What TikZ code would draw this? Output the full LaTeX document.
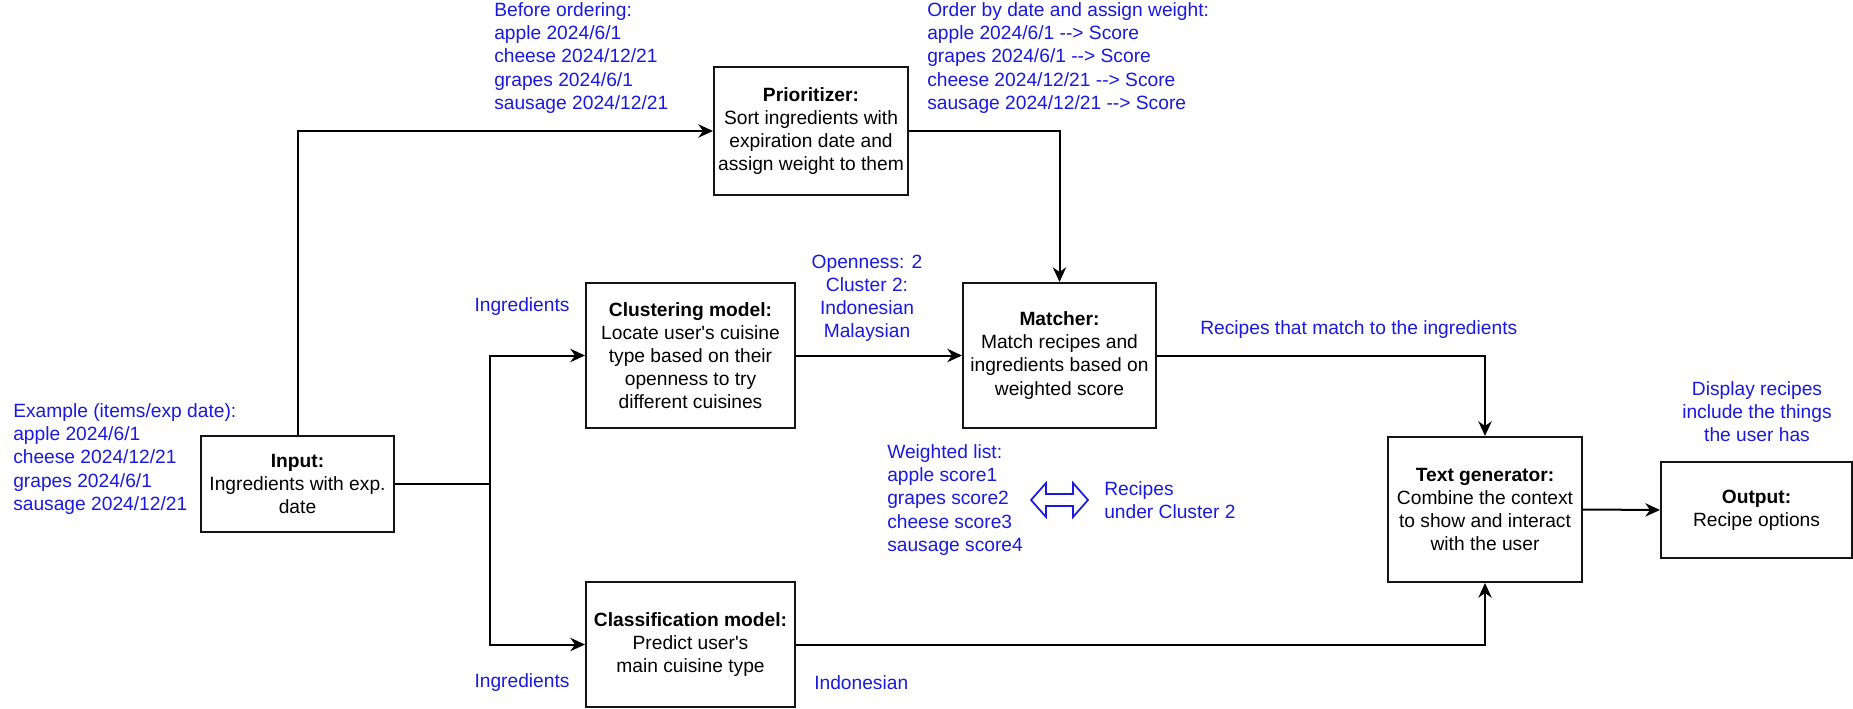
\documentclass[tikz,border=0pt]{standalone}
\usepackage{fontspec}
\setmainfont{Liberation Sans}[Ligatures=TeXOff]
\usetikzlibrary{arrows.meta}

\begin{document}
\begin{tikzpicture}[x=0.75pt,y=0.75pt,yscale=-1,xscale=1,
  box/.style={draw={rgb, 255:red, 20; green, 20; blue, 20 }, line width=1.5pt, inner sep=0.75pt, align=center, font=\fontsize{14.4}{17.28}\selectfont},
  note/.style={text={rgb, 255:red, 25; green, 25; blue, 225 }, inner sep=0.75pt, font=\fontsize{14.4}{17.28}\selectfont},
  flow/.style={line width=1.5pt, -{Stealth[length=11pt,width=10pt,inset=3.5pt]}}]
%set diagram left start at 0, and has height of 709
\useasboundingbox (0,0) rectangle (1853,709);

%Shape: Rectangle [input]
\draw (297.5,484) node [box, minimum width=144.75pt, minimum height=72pt] (input) {\textbf{Input:}\\Ingredients with exp.\\date};
%Shape: Rectangle [prioritizer]
\draw (811,131) node [box, minimum width=145.5pt, minimum height=96pt] (prio) {\textbf{Prioritizer:}\\Sort ingredients with\\expiration date and\\assign weight to them};
%Shape: Rectangle [clustering]
\draw (690.5,355.5) node [box, minimum width=156.75pt, minimum height=108.75pt] (clust) {\textbf{Clustering model:}\\Locate user's cuisine\\type based on their\\openness to try\\different cuisines};
%Shape: Rectangle [matcher]
\draw (1059.5,355.5) node [box, minimum width=144.75pt, minimum height=108.75pt] (match) {\textbf{Matcher:}\\Match recipes and\\ingredients based on\\weighted score};
%Shape: Rectangle [classification]
\draw (690.5,644.5) node [box, minimum width=156.75pt, minimum height=93.75pt] (classif) {\textbf{Classification model:}\\Predict user's\\main cuisine type};
%Shape: Rectangle [text generator]
\draw (1485,509.5) node [box, minimum width=145.5pt, minimum height=108.75pt] (textgen) {\textbf{Text generator:}\\Combine the context\\to show and interact\\with the user};
%Shape: Rectangle [output]
\draw (1756.5,510) node [box, minimum width=143.25pt, minimum height=72pt] (output) {\textbf{Output:}\\Recipe options};

%Straight Lines
\coordinate (split) at (490,484);
\draw [flow] (input.north) |- (prio.west);
\draw [line width=1.5pt] (input.east) -- (split);
\draw [flow] (split) |- (clust.west);
\draw [flow] (split) |- (classif.west);
\draw [flow] (prio.east) -| (match.north);
\draw [flow] (clust.east) -- (match.west);
\draw [flow] (match.east) -| (textgen.north);
\draw [flow] (classif.east) -| (textgen.south);
\draw [flow] (textgen.east) -- (output.west);

%Shape: Left Right Arrow
\draw [draw={rgb, 255:red, 25; green, 25; blue, 225 }, line width=1.3pt] (1031,500) -- (1046,483) -- (1046,494) -- (1073,494) -- (1073,483) -- (1088,500) -- (1073,517) -- (1073,506) -- (1046,506) -- (1046,517) -- cycle;

% Text Node
\draw (12,459) node [note, anchor=west, align=left] (example) {Example (items/exp date):\\apple 2024/6/1\\cheese 2024/12/21\\grapes 2024/6/1\\sausage 2024/12/21};
% Text Node
\draw (493,58) node [note, anchor=west, align=left] (before) {Before ordering:\\apple 2024/6/1\\cheese 2024/12/21\\grapes 2024/6/1\\sausage 2024/12/21};
% Text Node
\draw (926,58) node [note, anchor=west, align=left] (order) {Order by date and assign weight:\\apple 2024/6/1 --> Score\\grapes 2024/6/1 --> Score\\cheese 2024/12/21 --> Score\\sausage 2024/12/21 --> Score};
% Text Node
\draw (522,307) node [note] (ingrtop) {Ingredients};
% Text Node
\draw (522,683) node [note] (ingrbot) {Ingredients};
% Text Node
\draw (867,298.5) node [note, align=center] (openness) {Openness: 2\\Cluster 2:\\Indonesian\\Malaysian};
% Text Node
\draw (1199,330) node [note, anchor=west] (matched) {Recipes that match to the ingredients};
% Text Node
\draw (886,500) node [note, anchor=west, align=left] (weighted) {Weighted list:\\apple score1\\grapes score2\\cheese score3\\sausage score4};
% Text Node
\draw (1103,500) node [note, anchor=west, align=left] (clusterrec) {Recipes\\under Cluster 2};
% Text Node
\draw (1757,412) node [note, align=center] (display) {Display recipes\\include the things\\the user has};
% Text Node
\draw (813,683) node [note, anchor=west] (indo) {Indonesian};

\end{tikzpicture}
\end{document}
